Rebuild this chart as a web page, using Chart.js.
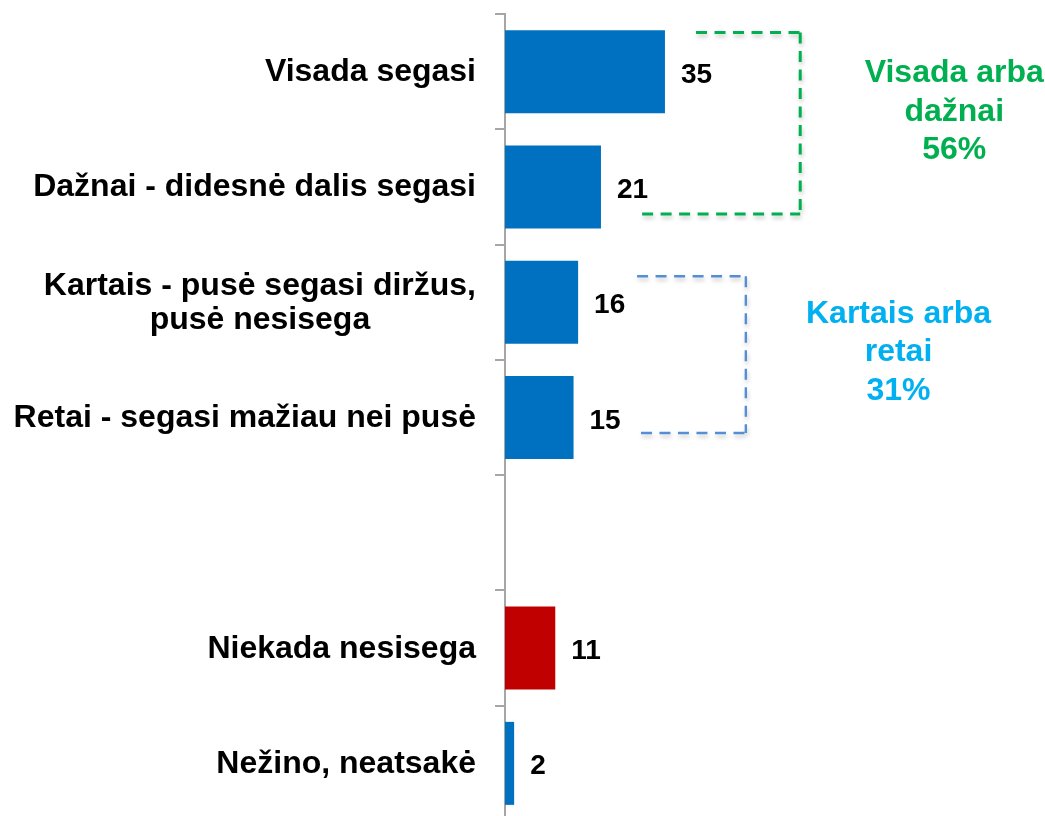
<!DOCTYPE html>
<html>
<head>
<meta charset="utf-8">
<script src="https://cdn.jsdelivr.net/npm/chart.js@4"></script>
<style>
  body { margin: 0; background: #fff; overflow: hidden; }
  #chart { display: block; }
</style>
</head>
<body>
<canvas id="chart" width="1045" height="822"></canvas>
<script>
// data
const categories = [
    'Visada segasi',
    'Dažnai - didesnė dalis segasi',
    ['Kartais - pusė segasi diržus,', 'pusė nesisega'],
    'Retai - segasi mažiau nei pusė',
    '',
    'Niekada nesisega',
    'Nežino, neatsakė'
];
const values = [35, 21, 16, 15, null, 11, 2];

const groupNames = [['Visada arba', 'dažnai'], ['Kartais arba', 'retai']];
const groupShares = [56, 31];

const BLUE = '#0070C0';
const RED = '#C00000';
const redIndex = 5;
const FONT = '"Liberation Sans", Arial, sans-serif';

// bracket look, in value / category units
const groupStyles = [
    { line: '#00B050', text: '#00B050', width: 3, top: -0.34, bottom: 1.235, topFrom: 41.8, bottomFrom: 30, edge: 64.6, textX: 98.3, textY: 0.09 },
    { line: '#558ED5', text: '#00B0F0', width: 2.4, top: 1.775, bottom: 3.135, topFrom: 28.9, bottomFrom: 29.75, edge: 52.7, textX: 86.1, textY: 2.18 }
];

const labelPlugin = {
    id: 'labels',
    afterDatasetsDraw(chart) {
        const { ctx, scales: { x, y } } = chart;
        ctx.save();
        ctx.fillStyle = '#000';
        ctx.textAlign = 'center';
        ctx.font = 'bold 32px ' + FONT;
        categories.forEach((cat, i) => {
            const lines = Array.isArray(cat) ? cat : [cat];
            const cy = y.getPixelForValue(i);
            const w = Math.max(...lines.map(l => ctx.measureText(l).width));
            const cx = y.right - 29 - w / 2;
            lines.forEach((line, k) => {
                ctx.fillText(line, cx, cy + 9.5 + (k - (lines.length - 1) / 2) * 34);
            });
        });

        ctx.font = 'bold 28px ' + FONT;
        ctx.textAlign = 'left';
        chart.getDatasetMeta(0).data.forEach((bar, i) => {
            if (values[i] == null) return;
            ctx.fillText(String(values[i]), bar.x + 16, bar.y + 11);
        });

        // group brackets
        groupStyles.forEach((g, i) => {
            const top = y.getPixelForValue(g.top);
            const bottom = y.getPixelForValue(g.bottom);
            const edge = x.getPixelForValue(g.edge);
            ctx.save();
            ctx.strokeStyle = g.line;
            ctx.lineWidth = g.width;
            ctx.setLineDash([11, 7.5]);
            ctx.shadowColor = 'rgba(0,0,0,0.22)';
            ctx.shadowBlur = 4;
            ctx.shadowOffsetX = 1;
            ctx.shadowOffsetY = 3;
            ctx.beginPath();
            ctx.moveTo(x.getPixelForValue(g.topFrom), top);
            ctx.lineTo(edge, top);
            ctx.moveTo(edge, top);
            ctx.lineTo(edge, bottom);
            ctx.moveTo(x.getPixelForValue(g.bottomFrom), bottom);
            ctx.lineTo(edge, bottom);
            ctx.stroke();
            ctx.restore();

            ctx.fillStyle = g.text;
            ctx.textAlign = 'center';
            ctx.font = 'bold 32px ' + FONT;
            const lines = groupNames[i].concat(groupShares[i] + '%');
            const tx = x.getPixelForValue(g.textX);
            const ty = y.getPixelForValue(g.textY);
            lines.forEach((line, k) => ctx.fillText(line, tx, ty + k * 38.5));
        });
        ctx.restore();
    }
};

const chart = document.querySelector('#chart').getContext('2d');

new Chart(chart, {
    type: 'bar',
    data: {
        labels: categories,
        datasets: [{
            data: values,
            backgroundColor: c => c.dataIndex === redIndex ? RED : BLUE,
            categoryPercentage: 1,
            barPercentage: 0.72
        }]
    },
    options: {
        indexAxis: 'y',
        responsive: false,
        animation: false,
        layout: { padding: { top: 14, bottom: 1, left: 0, right: 83 } },
        plugins: { legend: { display: false }, tooltip: { enabled: false } },
        scales: {
            x: { display: false, min: 0, max: 100 },
            y: {
                afterFit: s => { s.width = 505; },
                grid: { offset: true, drawOnChartArea: false, drawTicks: true, tickLength: 10, color: '#A6A6A6', lineWidth: 2 },
                border: { display: true, color: '#A6A6A6', width: 2 },
                ticks: { display: false }
            }
        }
    },
    plugins: [labelPlugin]
});
</script>
</body>
</html>
